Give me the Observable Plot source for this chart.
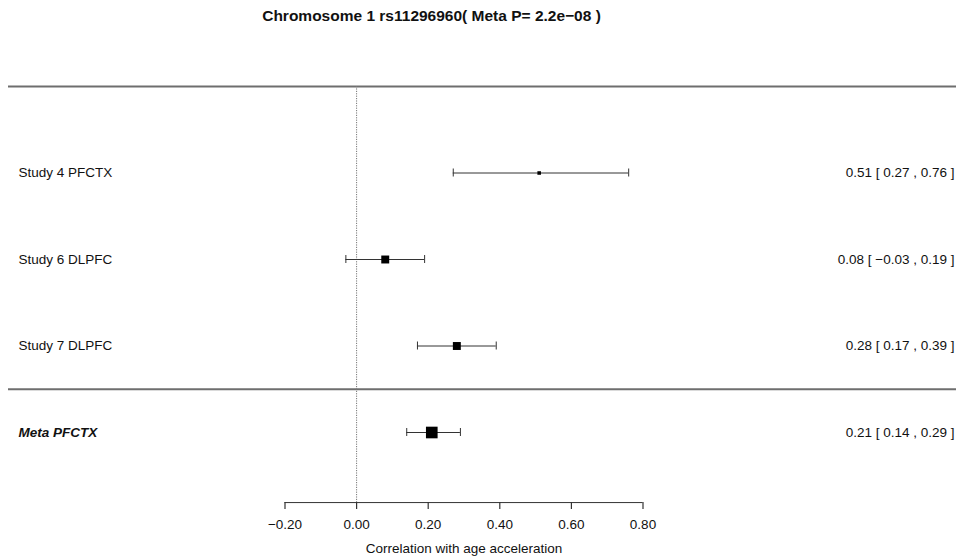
<!DOCTYPE html>
<html>
<head>
<meta charset="utf-8">
<script src="https://cdn.jsdelivr.net/npm/d3@7"></script>
<script src="https://cdn.jsdelivr.net/npm/@observablehq/plot@0.6"></script>
<style>
  html, body { margin: 0; padding: 0; background: #fff; }
</style>
</head>
<body>
<div id="chart"></div>
<script>
// Per-study correlations with age acceleration and their 95% CIs
const studyLabels = ["Study 4 PFCTX", "Study 6 DLPFC", "Study 7 DLPFC"];
const studyEst = [0.51, 0.08, 0.28];
const studyLo = [0.27, -0.03, 0.17];
const studyHi = [0.76, 0.19, 0.39];

// Meta-analysis summary
const metaLabel = "Meta PFCTX";
const metaEst = 0.21;
const metaLo = 0.14;
const metaHi = 0.29;

// Header information
const chromosome = "1";
const snp = "rs11296960";
const metaP = "2.2e\u221208";

const xTicks = [-0.2, 0, 0.2, 0.4, 0.6, 0.8];
const xLabel = "Correlation with age acceleration";

const fmt = v => (v < 0 ? "\u2212" : "") + Math.abs(v).toFixed(2);

const rows = studyLabels.map((label, i) => ({
  label, est: studyEst[i], lo: studyLo[i], hi: studyHi[i], row: i + 1, meta: false
}));
rows.push({label: metaLabel, est: metaEst, lo: metaLo, hi: metaHi, row: studyLabels.length + 1, meta: true});
rows.forEach(d => {
  d.text = `${fmt(d.est)} [ ${fmt(d.lo)} , ${fmt(d.hi)} ]`;
  d.precision = 1 / (d.hi - d.lo);   // box size follows the inverse CI width
});

const studies = rows.filter(d => !d.meta);
const metaRows = rows.filter(d => d.meta);
const lastRow = rows.length;
const separatorRow = studyLabels.length + 0.5;
const axisRow = lastRow + 0.81;

const font = "'Liberation Sans', Arial, Helvetica, sans-serif";

const chart = Plot.plot({
  width: 956,
  height: 558,
  marginTop: 0,
  marginLeft: 8,
  marginRight: 0,
  marginBottom: 56,
  style: {fontFamily: font, fontSize: "13.5px", background: "#fff", color: "#111"},
  x: {domain: [xTicks[0], xTicks[xTicks.length - 1]], range: [284.5, 642.5]},
  y: {domain: [0, lastRow], range: [86, 432], axis: null},
  r: {type: "linear", domain: [0, 7], range: [0, 6.9]},
  marks: [
    // title
    Plot.text([`Chromosome ${chromosome} ${snp}( Meta P= ${metaP} )`], {
      frameAnchor: "top", lineAnchor: "middle", dy: 16, dx: -51,
      fontWeight: "bold", fontSize: 15.5, fill: "#111"
    }),
    // frame rules above the studies and above the summary
    Plot.ruleY([0, separatorRow], {stroke: "#6e6e6e", strokeWidth: 2}),
    // null line
    Plot.ruleX([0], {y1: 0, y2: axisRow, stroke: "#777", strokeWidth: 1, strokeDasharray: "1.2,1.2"}),
    // confidence intervals
    Plot.ruleY(rows, {y: "row", x1: "lo", x2: "hi", stroke: "#333", strokeWidth: 1}),
    Plot.ruleX(rows, {x: "lo", y1: "row", y2: "row", insetTop: -4, insetBottom: -4, stroke: "#333", strokeWidth: 1}),
    Plot.ruleX(rows, {x: "hi", y1: "row", y2: "row", insetTop: -4, insetBottom: -4, stroke: "#333", strokeWidth: 1}),
    // point estimates
    Plot.dot(rows, {x: "est", y: "row", r: "precision", symbol: "square", fill: "#000", stroke: null}),
    // row labels
    Plot.text(studies, {y: "row", text: "label", frameAnchor: "left", textAnchor: "start", dx: 10, fill: "#111"}),
    Plot.text(metaRows, {y: "row", text: "label", frameAnchor: "left", textAnchor: "start", dx: 10, fill: "#111",
      fontWeight: "bold", fontStyle: "italic"}),
    // estimate [CI] column
    Plot.text(rows, {y: "row", text: "text", frameAnchor: "right", textAnchor: "end", dx: -2, fill: "#111"}),
    // x axis
    Plot.ruleY([axisRow], {x1: xTicks[0], x2: xTicks[xTicks.length - 1], stroke: "#333", strokeWidth: 1}),
    Plot.axisX({anchor: "bottom", ticks: xTicks, tickFormat: fmt, tickSize: 7, tickPadding: 10, label: null, stroke: "#333", strokeWidth: 1.2}),
    Plot.text([xLabel], {x: () => (xTicks[0] + xTicks[xTicks.length - 1]) / 2, frameAnchor: "bottom", lineAnchor: "middle", dy: 46, fill: "#111"})
  ]
});

document.getElementById("chart").appendChild(chart);
</script>
</body>
</html>
